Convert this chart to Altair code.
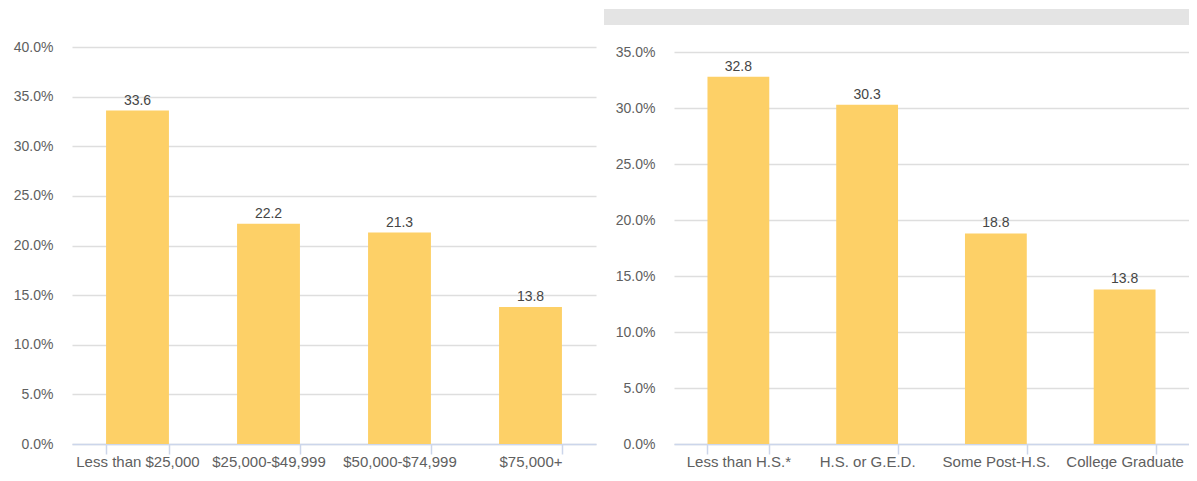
import altair as alt
import pandas as pd

left_cats = ["Less than $25,000", "$25,000-$49,999", "$50,000-$74,999", "$75,000+"]
left_vals = [33.6, 22.2, 21.3, 13.8]
right_cats = ["Less than H.S.*", "H.S. or G.E.D.", "Some Post-H.S.", "College Graduate"]
right_vals = [32.8, 30.3, 18.8, 13.8]

BAR = "#fdd067"
FONT = "Liberation Sans"
NOVIEW = alt.ViewConfig(stroke="transparent", strokeWidth=0)


def panel(cats, vals, ymax, width, height, top, strip=False):
    df = pd.DataFrame({"cat": cats, "val": vals})
    base = alt.Chart(df)
    x = alt.X(
        "cat:N",
        sort=cats,
        scale=alt.Scale(paddingInner=0.52, paddingOuter=0.26),
        axis=alt.Axis(
            title=None, labelAngle=0, tickBand="extent", domainColor="#ccd6eb",
            domainWidth=1.5, tickColor="#ccd6eb", tickWidth=1.5, tickSize=10,
            labelFontSize=15, labelColor="#606060", labelFont=FONT,
            labelPadding=0, grid=False, labelLimit=0,
        ),
    )
    y = alt.Y(
        "val:Q",
        scale=alt.Scale(domain=[0, ymax], range=[height, top], nice=False, zero=True),
        axis=alt.Axis(
            title=None, values=list(range(0, ymax + 1, 5)),
            labelExpr="format(datum.value, '.1f') + '%'",
            domain=False, ticks=False, gridColor="#dedede", gridWidth=1.5,
            labelFontSize=14, labelColor="#606060", labelFont=FONT, labelPadding=19,
        ),
    )
    bars = base.mark_bar(color=BAR).encode(x=x, y=y)
    labels = base.mark_text(
        baseline="bottom", dy=-3, fontSize=14, color="#454545", font=FONT
    ).encode(x=x, y=y, text=alt.Text("val:Q", format=".1f"))
    layers = [bars, labels]
    if strip:
        sdf = pd.DataFrame({"s": [0]})
        band = alt.Chart(sdf).mark_rect(color="#e4e4e4").encode(
            x=alt.value(-70), x2=alt.value(width), y=alt.value(-38), y2=alt.value(-22)
        )
        layers = [band] + layers
    return alt.layer(*layers).properties(width=width, height=height, view=NOVIEW)


left = panel(left_cats, left_vals, 40, 524, 397, 0)
right = panel(right_cats, right_vals, 35, 515, 397, 5, strip=True)

chart = (
    alt.hconcat(left, right, spacing=78, bounds="flush")
    .properties(padding={"left": 5, "top": 1, "right": 0, "bottom": 0})
    .configure_view(strokeWidth=0, stroke="transparent")
    .configure(font=FONT, style={"cell": {"stroke": "transparent", "strokeWidth": 0}})
)

chart.save("out.html", embed_options={"renderer": "svg", "actions": False})
